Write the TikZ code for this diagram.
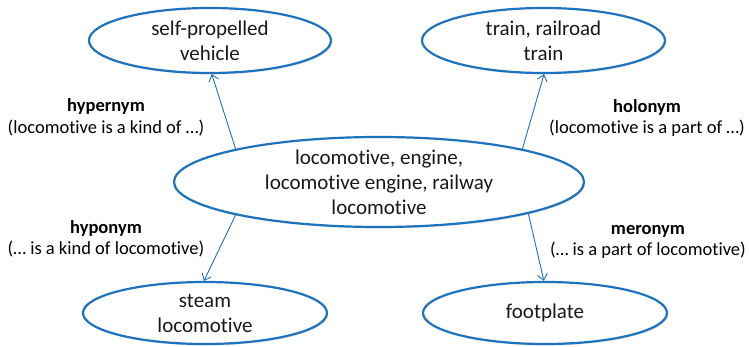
\documentclass[tikz,border=0pt]{standalone}
\usepackage{fontspec}
\setmainfont{Carlito}[Ligatures=NoCommon]
\usetikzlibrary{arrows.meta,shapes.geometric,shadows}
\definecolor{ellblue}{RGB}{30,115,190}
\definecolor{txt}{RGB}{25,25,25}
\tikzset{
  ell/.style={ellipse, draw=ellblue, line width=2.2pt, fill=white, inner sep=0pt,
    drop shadow={shadow xshift=1.2pt, shadow yshift=-1.5pt, opacity=0.22}},
  elltext/.style={align=center, text=txt, font=\fontsize{21}{25}\selectfont},
  reltext/.style={align=center, text=black, font=\fontsize{18.5}{21.5}\selectfont},
  arr/.style={draw=ellblue, line width=0.9pt, -{Straight Barb[length=6pt,width=10pt]}}
}
\begin{document}
\begin{tikzpicture}[x=1pt,y=-1pt]
\useasboundingbox (0,0) rectangle (749,347);
\node[ell, minimum width=242pt, minimum height=65pt] (tl) at (210,40.5) {};
\node[elltext] at (tl) {self-propelled\\vehicle};
\node[ell, minimum width=243pt, minimum height=65pt] (tr) at (543.5,40.5) {};
\node[elltext] at (tr) {train, railroad\\train};
\node[ell, minimum width=410pt, minimum height=90pt] (c) at (379,182) {};
\node[elltext] at (c) {locomotive, engine,\\locomotive engine, railway\\locomotive};
\node[ell, minimum width=244pt, minimum height=62pt] (bl) at (205,313) {};
\node[elltext] at (bl) {steam\\locomotive};
\node[ell, minimum width=244pt, minimum height=62pt] (br) at (545,313) {};
\node[elltext] at (br) {footplate};
\draw[arr] (c.167.6) -- (tl.-87);
\draw[arr] (c.13) -- (tr.-89);
\draw[arr] (c.-167.4) -- (bl.92);
\draw[arr] (c.-12.9) -- (br.92);
\node[reltext] (hyper) at (106,117.5) {\textbf{hypernym}\\(locomotive is a kind of …)};
\node[reltext] (holo) at (647,118) {\textbf{holonym}\\(locomotive is a part of …)};
\node[reltext] (hypo) at (106,239) {\textbf{hyponym}\\(… is a kind of locomotive)};
\node[reltext] (mero) at (648,242) {\textbf{meronym}\\(… is a part of locomotive)};
\end{tikzpicture}
\end{document}
